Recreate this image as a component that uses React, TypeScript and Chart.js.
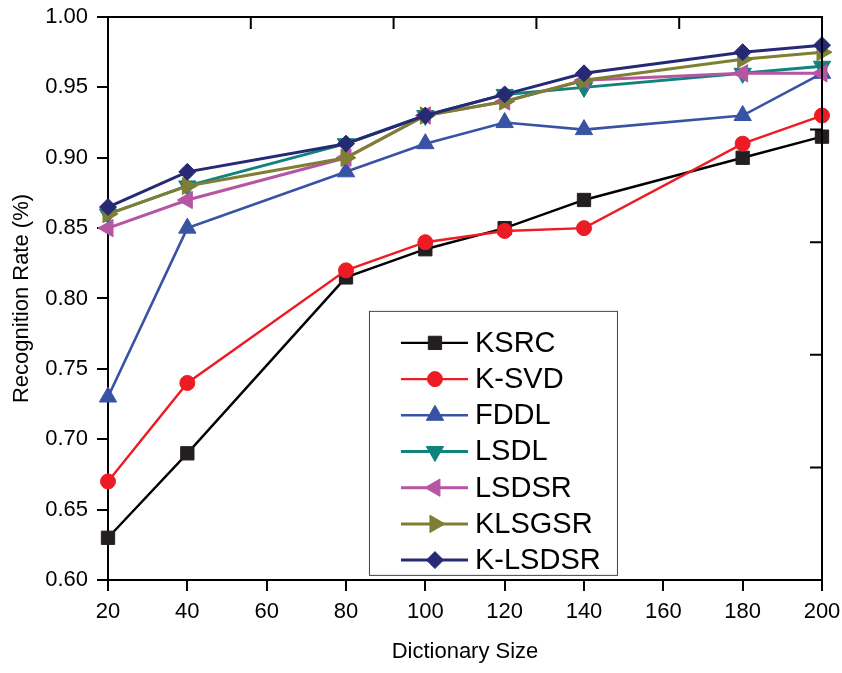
import React, { useEffect, useRef } from 'react';
import { Chart, registerables } from 'chart.js';
import { drawPoint } from 'chart.js/helpers';

Chart.register(...registerables);

// ---- data ----
const dictionarySizes = [20, 40, 80, 100, 120, 140, 180, 200];
const seriesNames = ['KSRC', 'K-SVD', 'FDDL', 'LSDL', 'LSDSR', 'KLSGSR', 'K-LSDSR'];
const ksrc = [0.63, 0.69, 0.815, 0.835, 0.85, 0.87, 0.9, 0.915];
const ksvd = [0.67, 0.74, 0.82, 0.84, 0.848, 0.85, 0.91, 0.93];
const fddl = [0.73, 0.85, 0.89, 0.91, 0.925, 0.92, 0.93, 0.96];
const lsdl = [0.86, 0.88, 0.91, 0.93, 0.945, 0.95, 0.96, 0.965];
const lsdsr = [0.85, 0.87, 0.9, 0.93, 0.94, 0.955, 0.96, 0.96];
const klsgsr = [0.86, 0.88, 0.9, 0.93, 0.94, 0.955, 0.97, 0.975];
const klsdsr = [0.865, 0.89, 0.91, 0.93, 0.945, 0.96, 0.975, 0.98];
const seriesValues = [ksrc, ksvd, fddl, lsdl, lsdsr, klsgsr, klsdsr];

const xMin = 20;
const xMax = 200;
const xStep = 20;
const yMin = 0.6;
const yMax = 1.0;
const yStep = 0.05;
const topMirrorTicks = [20, 56, 92, 128, 164, 200];
const rightMirrorTicks = [0.6, 0.68, 0.76, 0.84, 0.92, 1.0];
const xTitle = 'Dictionary Size';
const yTitle = 'Recognition Rate (%)';

// ---- styles ----
const FONT = "'Liberation Sans', Arial, sans-serif";
const lineColors = ['#000000', '#ed1c24', '#3853a4', '#11837f', '#b655a2', '#7f7f33', '#262a75'];
const pointColors = ['#231f20', '#ed1c24', '#3853a4', '#11837f', '#b655a2', '#7f7f33', '#262a75'];
const pointStyles = ['rect', 'circle', 'triangle', 'triangle', 'triangle', 'triangle', 'rectRot'];
const pointRotations = [0, 0, 0, 180, 270, 90, 0];
const pointRadii = [9.4, 7.5, 10, 10, 10, 10, 8.5];
const lineWidths = [2.4, 2.4, 2.6, 3, 3, 3, 3];

const framePlugin = {
  id: 'frameAndLegend',
  afterDraw(chart: any) {
    const ctx = chart.ctx;
    const ca = chart.chartArea;
    const xs = chart.scales.x;
    const ys = chart.scales.y;
    ctx.save();
    // top and right frame lines with inward ticks
    ctx.strokeStyle = '#000';
    ctx.lineWidth = 2;
    ctx.beginPath();
    ctx.moveTo(ca.left, ca.top);
    ctx.lineTo(ca.right, ca.top);
    ctx.lineTo(ca.right, ca.bottom);
    ctx.stroke();
    ctx.beginPath();
    for (const v of topMirrorTicks) {
      const px = xs.getPixelForValue(v);
      ctx.moveTo(px, ca.top);
      ctx.lineTo(px, ca.top + 12);
    }
    for (const v of rightMirrorTicks) {
      const py = ys.getPixelForValue(v);
      ctx.moveTo(ca.right, py);
      ctx.lineTo(ca.right - 12, py);
    }
    ctx.stroke();

    // legend box
    const w = ca.right - ca.left;
    const h = ca.bottom - ca.top;
    const bx = ca.left + w * 0.3655;
    const by = ca.top + h * 0.522;
    const bw = 248;
    const bh = 264;
    ctx.fillStyle = '#fff';
    ctx.fillRect(bx, by, bw, bh);
    ctx.strokeStyle = '#444';
    ctx.lineWidth = 1;
    ctx.strokeRect(bx + 0.5, by + 0.5, bw, bh);
    ctx.font = `29px ${FONT}`;
    ctx.textBaseline = 'middle';
    ctx.textAlign = 'left';
    chart.data.datasets.forEach((ds: any, i: number) => {
      const ry = by + 32 + i * 36.2;
      ctx.strokeStyle = lineColors[i];
      ctx.lineWidth = lineWidths[i];
      ctx.beginPath();
      ctx.moveTo(bx + 32, ry);
      ctx.lineTo(bx + 99, ry);
      ctx.stroke();
      ctx.fillStyle = pointColors[i];
      ctx.strokeStyle = pointColors[i];
      ctx.lineWidth = 1;
      drawPoint(ctx, {
        pointStyle: pointStyles[i],
        rotation: pointRotations[i],
        radius: pointRadii[i],
        borderWidth: 1,
      } as any, bx + 66, ry);
      ctx.fillStyle = '#000';
      ctx.fillText(ds.label, bx + 106, ry + 1);
    });
    ctx.restore();
  },
};

export default function App() {
  const ref = useRef<HTMLCanvasElement | null>(null);
  useEffect(() => {
    if (!ref.current) return;
    const n = seriesNames.length;
    const chart = new Chart(ref.current, {
      type: 'line',
      data: {
        datasets: seriesNames.map((name, i) => ({
          label: name,
          data: dictionarySizes.map((x, j) => ({ x, y: seriesValues[i][j] })),
          borderColor: lineColors[i],
          backgroundColor: pointColors[i],
          pointBackgroundColor: pointColors[i],
          pointBorderColor: pointColors[i],
          pointBorderWidth: 1,
          borderWidth: lineWidths[i],
          pointStyle: pointStyles[i] as any,
          pointRotation: pointRotations[i],
          pointRadius: pointRadii[i],
          tension: 0,
          fill: false,
          clip: false as any,
          order: n - i,
        })),
      },
      options: {
        animation: false,
        responsive: false,
        devicePixelRatio: 1,
        layout: { padding: { top: 17, right: 20, left: 0, bottom: 0 } },
        plugins: { legend: { display: false }, tooltip: { enabled: false } },
        scales: {
          x: {
            type: 'linear',
            min: xMin,
            max: xMax,
            ticks: {
              stepSize: xStep,
              color: '#000',
              font: { family: FONT, size: 22 },
              padding: 8,
              maxRotation: 0,
              autoSkip: false,
            },
            grid: { drawOnChartArea: false, tickLength: 11, color: '#000', lineWidth: 2 },
            border: { color: '#000', width: 2 },
            title: {
              display: true,
              text: xTitle,
              color: '#000',
              font: { family: FONT, size: 22 },
              padding: { top: 0, bottom: 8 },
            },
            afterFit: (s: any) => {
              s.height = 93;
              s.paddingLeft = 0;
              s.paddingRight = 0;
            },
          },
          y: {
            type: 'linear',
            min: yMin,
            max: yMax,
            ticks: {
              stepSize: yStep,
              color: '#000',
              font: { family: FONT, size: 22 },
              padding: 9,
              callback: (v: any) => Number(v).toFixed(2),
            },
            grid: { drawOnChartArea: false, tickLength: 11, color: '#000', lineWidth: 2 },
            border: { color: '#000', width: 2 },
            title: {
              display: true,
              text: yTitle,
              color: '#000',
              font: { family: FONT, size: 22 },
              padding: { top: 9, bottom: 0 },
            },
            afterFit: (s: any) => {
              s.width = 108;
              s.paddingTop = 0;
              s.paddingBottom = 0;
            },
          },
        },
      },
      plugins: [framePlugin],
    });
    return () => chart.destroy();
  }, []);
  return (
    <div style={{ position: 'absolute', left: 0, top: 0, width: 842, height: 673, background: '#fff' }}>
      <canvas ref={ref} width={842} height={673} />
    </div>
  );
}
